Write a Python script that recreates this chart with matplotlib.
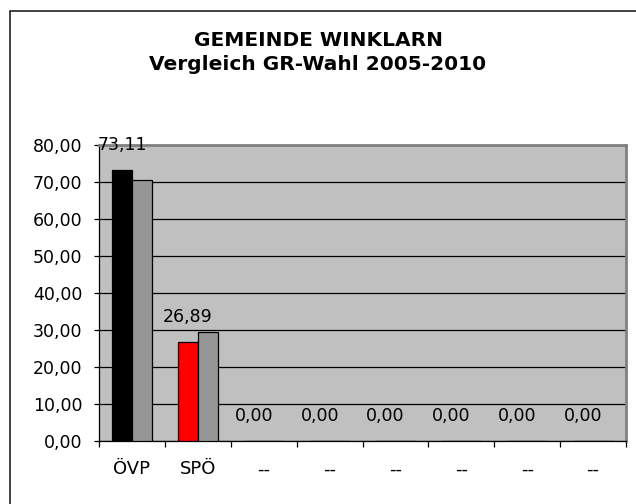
import matplotlib.pyplot as plt
from matplotlib.patches import Rectangle
import numpy as np

plt.rcParams['font.family'] = ['DejaVu Sans']

# data
parties = ['ÖVP', 'SPÖ', '--', '--', '--', '--', '--', '--']
wahl_2010 = [73.11, 26.89, 0.0, 0.0, 0.0, 0.0, 0.0, 0.0]
wahl_2005 = [70.6, 29.4, 0.0, 0.0, 0.0, 0.0, 0.0, 0.0]
colors_2010 = ['#000000', '#ff0000', '#000000', '#000000', '#000000', '#000000', '#000000', '#000000']
color_2005 = '#969696'

fig = plt.figure(figsize=(6.36, 5.04), dpi=100)

# outer chart border (runs off right / bottom like the original)
fig.patches.append(Rectangle((10/636, -0.1), 1.2, 1 - 11/504 + 0.1,
                             transform=fig.transFigure, fill=False,
                             edgecolor='#222222', linewidth=1.2))

ax = fig.add_axes([99/636, 1 - 441/504, (626 - 99)/636, (441 - 145)/504])
ax.set_facecolor('#c0c0c0')

x = np.arange(len(parties))
w = 0.3
ax.bar(x - w/2, wahl_2010, w, color=colors_2010, edgecolor='black', linewidth=0.9, zorder=3)
ax.bar(x + w/2, wahl_2005, w, color=color_2005, edgecolor='black', linewidth=0.9, zorder=3)

# value labels for 2010
for xi, v in zip(x, wahl_2010):
    ax.annotate(f'{v:.2f}'.replace('.', ','), (xi - w/2, v), xytext=(0, 18),
                textcoords='offset points', ha='center', va='center',
                fontsize=12.5, annotation_clip=False, zorder=5)

ax.set_xlim(-0.5, len(parties) - 0.5)
ax.set_ylim(0, 80)
ax.set_yticks(np.arange(0, 81, 10))
ax.set_yticklabels([f'{t:.2f}'.replace('.', ',') for t in np.arange(0, 81, 10)], fontsize=12.5)
ax.yaxis.grid(True, color='black', linewidth=0.9, zorder=1)
ax.tick_params(axis='y', length=3.6, width=0.9, pad=8.5)

ax.set_xticks(x)
ax.set_xticklabels(parties, fontsize=13)
ax.set_xticks(np.arange(-0.5, len(parties)), minor=True)
ax.tick_params(axis='x', which='major', length=0, pad=14)
ax.tick_params(axis='x', which='minor', length=4, width=0.9)

for side in ['top', 'right']:
    ax.spines[side].set_color('#808080')
    ax.spines[side].set_linewidth(2)
for side in ['left', 'bottom']:
    ax.spines[side].set_color('black')
    ax.spines[side].set_linewidth(0.9)

fig.text(0.5, 1 - 41/504, 'GEMEINDE WINKLARN', ha='center', va='center',
         fontsize=14.5, fontweight='bold')
fig.text(0.5, 1 - 65/504, 'Vergleich GR-Wahl 2005-2010', ha='center', va='center',
         fontsize=14.5, fontweight='bold')

plt.savefig('out.png', dpi=100)
